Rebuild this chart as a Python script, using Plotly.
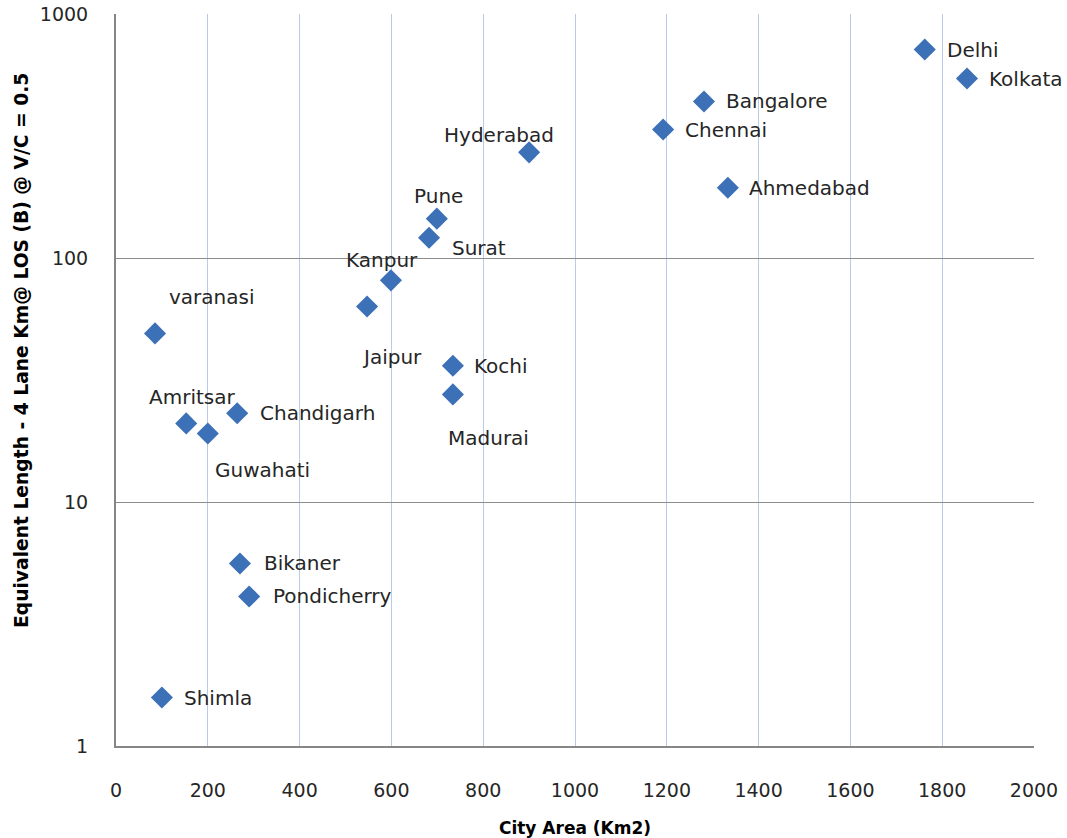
import numpy as np
import plotly.graph_objects as go

cities = ["Delhi", "Kolkata", "Bangalore", "Chennai", "Ahmedabad", "Hyderabad",
          "Pune", "Surat", "Kanpur", "Jaipur", "varanasi", "Kochi", "Madurai",
          "Amritsar", "Chandigarh", "Guwahati", "Bikaner", "Pondicherry", "Shimla"]
city_area = [1762, 1854, 1281, 1192, 1333, 900,
             699, 682, 599, 547, 85, 734, 734,
             153, 264, 200, 270, 290, 100]
equiv_length = [715, 544, 438, 336, 194, 271,
                145, 121, 81, 63.3, 49.1, 36.2, 27.6,
                21.0, 23.1, 19.1, 5.6, 4.1, 1.58]

x_ticks = [0, 200, 400, 600, 800, 1000, 1200, 1400, 1600, 1800, 2000]
y_ticks = [1, 10, 100, 1000]

# label placement: (xanchor, xshift px, yshift px)
label_pos = {
    "Delhi": ("left", 20, 0), "Kolkata": ("left", 20, 0),
    "Bangalore": ("left", 20, 0), "Chennai": ("left", 20, 0),
    "Ahmedabad": ("left", 19, 0), "Hyderabad": ("center", -30, 17),
    "Pune": ("center", 2, 23), "Surat": ("center", 50, -10),
    "Kanpur": ("center", -9, 20), "Jaipur": ("center", 25, -51),
    "varanasi": ("center", 56, 36), "Kochi": ("left", 19, 0),
    "Madurai": ("center", 36, -44), "Amritsar": ("center", 6, 26),
    "Chandigarh": ("left", 21, 0), "Guwahati": ("center", 55, -37),
    "Bikaner": ("left", 22, 0), "Pondicherry": ("left", 22, 0),
    "Shimla": ("left", 20, 0),
}

FONT = "DejaVu Sans"
L, R, T, B = 116, 33, 14, 92
W, H = 1067, 838
plot_w = W - L - R
plot_h = H - T - B

fig = go.Figure()
fig.add_trace(go.Scatter(
    x=city_area, y=equiv_length, mode="markers",
    marker=dict(symbol="diamond", size=17, color="#3c70b7",
                line=dict(width=0)),
    hovertext=cities, showlegend=False,
))

annotations = []
for c, xv, yv in zip(cities, city_area, equiv_length):
    xa, xs, ys = label_pos[c]
    annotations.append(dict(
        x=xv, y=float(np.log10(yv)), xref="x", yref="y", text=c,
        showarrow=False, xanchor=xa, yanchor="middle", xshift=xs, yshift=ys,
        font=dict(family=FONT, size=20, color="#262626"),
    ))

# y-axis title placed as a rotated annotation (pixel position converted to paper coords)
annotations.append(dict(
    x=(21 - L) / plot_w, y=(H - B - 351) / plot_h, xref="paper", yref="paper",
    xanchor="center", yanchor="middle",
    text="<b>Equivalent Length - 4 Lane Km@ LOS (B) @ V/C = 0.5</b>",
    showarrow=False, textangle=-90,
    font=dict(family=FONT, size=18.7, color="#000000"),
))

fig.update_layout(
    width=W, height=H,
    margin=dict(l=L, r=R, t=T, b=B),
    paper_bgcolor="white", plot_bgcolor="white",
    font=dict(family=FONT, size=19, color="#262626"),
    annotations=annotations,
    xaxis=dict(
        range=[0, 2000], tickvals=x_ticks, ticks="", showline=True,
        linecolor="#868686", linewidth=2, showgrid=True, gridcolor="#b9cbea",
        gridwidth=1, zeroline=False, ticklabelstandoff=26, automargin=False,
        tickfont=dict(family=FONT, size=19, color="#262626"),
        title=dict(text="<b>City Area (Km2)</b>",
                   font=dict(family=FONT, size=17, color="#000000"), standoff=22),
    ),
    yaxis=dict(
        type="log", range=[0, 3], tickvals=y_ticks, ticktext=[str(v) for v in y_ticks],
        ticks="", showline=True, linecolor="#868686", linewidth=2,
        showgrid=True, gridcolor="#8c8c8c", gridwidth=1, zeroline=False,
        ticklabelstandoff=22, automargin=False,
        tickfont=dict(family=FONT, size=19, color="#262626"),
    ),
)

fig.write_html(
    "out.html",
    config={"displayModeBar": False},
    post_script="document.body.style.margin='0';document.body.style.overflow='hidden';",
)
